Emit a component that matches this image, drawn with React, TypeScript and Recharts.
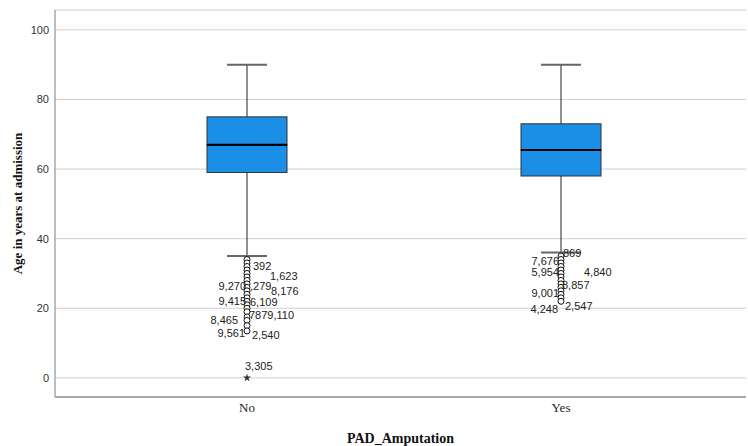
import { ComposedChart, Bar, Scatter, XAxis, YAxis, CartesianGrid, Symbols } from 'recharts';

// groups and five-number summaries (age in years)
const categories = ['No', 'Yes'];
const whiskerLow = [35, 36];
const q1 = [59, 58];
const median = [67, 65.5];
const q3 = [75, 73];
const whiskerHigh = [90, 90];

// outliers (circles) and extremes (stars)
const noOutliers = [34, 33, 32, 31, 30, 29, 28, 27, 26, 25, 24, 23, 22, 21, 20, 19, 17.5, 16.5, 15, 13.5];
const yesOutliers = [35, 34, 33, 32, 31, 30, 29, 28, 27, 26, 25, 24, 23, 22];
const noExtremes = [0];

// case labels next to the outliers
const labelGroups = ['No', 'No', 'No', 'No', 'No', 'No', 'No', 'No', 'No', 'No', 'No', 'No',
    'Yes', 'Yes', 'Yes', 'Yes', 'Yes', 'Yes', 'Yes', 'Yes'];
const labelTexts = ['392', '1,623', '9,270', ',279', '8,176', '9,415', '6,109', '7879,110', '8,465', '9,561', '2,540', '3,305',
    '869', '7,676', '5,954', '4,840', '8,857', '9,001', '4,248', '2,547'];
const labelValues = [32.2, 29.3, 26.4, 26.4, 25, 22.1, 21.8, 18.1, 16.7, 12.9, 12.4, 3.4,
    35.9, 33.6, 30.5, 30.5, 26.7, 24.4, 19.8, 20.7];

// where each label sits relative to its column: [dx, anchor]
const labelPlacement: [number, string][] = [
    [6, 'start'], [23, 'start'], [-1, 'end'], [3, 'start'], [24, 'start'], [-1, 'end'],
    [3, 'start'], [2, 'start'], [-9, 'end'], [-2, 'end'], [5, 'start'], [-2, 'start'],
    [2, 'start'], [-2, 'end'], [-2, 'end'], [23, 'start'], [1, 'start'], [-2, 'end'], [-3, 'end'], [4, 'start']
];

const yTicks = [0, 20, 40, 60, 80, 100];

const boxData = categories.map((name, i) => ({
    name,
    base: whiskerLow[i],
    lowWhisker: q1[i] - whiskerLow[i],
    lowerBox: median[i] - q1[i],
    upperBox: q3[i] - median[i],
    highWhisker: whiskerHigh[i] - q3[i]
}));

const outlierData = [
    ...noOutliers.map(v => ({ name: 'No', value: v })),
    ...yesOutliers.map(v => ({ name: 'Yes', value: v }))
];
const extremeData = noExtremes.map(v => ({ name: 'No', value: v }));
const labelData = labelTexts.map((text, i) => ({
    name: labelGroups[i],
    value: labelValues[i],
    text,
    dx: labelPlacement[i][0],
    anchor: labelPlacement[i][1]
}));

const BOX_FILL = '#1b8ee6';
const CAP_W = 40;

const LowWhisker = (props: any) => {
    const { x, y, width, height } = props;
    const cx = x + width / 2;
    return (
        <g>
            <line x1={cx} x2={cx} y1={y} y2={y + height} stroke="#222" strokeWidth={1} />
            <line x1={cx - CAP_W / 2} x2={cx + CAP_W / 2} y1={y + height} y2={y + height} stroke="#666" strokeWidth={2} />
        </g>
    );
};

const HighWhisker = (props: any) => {
    const { x, y, width, height } = props;
    const cx = x + width / 2;
    return (
        <g>
            <line x1={cx} x2={cx} y1={y} y2={y + height} stroke="#222" strokeWidth={1} />
            <line x1={cx - CAP_W / 2} x2={cx + CAP_W / 2} y1={y} y2={y} stroke="#666" strokeWidth={2} />
        </g>
    );
};

const LowerBox = (props: any) => {
    const { x, y, width, height } = props;
    return (
        <g>
            <rect x={x} y={y} width={width} height={height} fill={BOX_FILL} stroke="#333" strokeWidth={1} />
            <line x1={x} x2={x + width} y1={y} y2={y} stroke="#000" strokeWidth={2} />
        </g>
    );
};

const UpperBox = (props: any) => {
    const { x, y, width, height } = props;
    return (
        <g>
            <rect x={x} y={y} width={width} height={height} fill={BOX_FILL} stroke="#333" strokeWidth={1} />
            <line x1={x} x2={x + width} y1={y + height} y2={y + height} stroke="#000" strokeWidth={2} />
        </g>
    );
};

const Circle = (props: any) => (
    <circle cx={props.cx} cy={props.cy} r={3} fill="#fff" stroke="#111" strokeWidth={1} />
);

const Star = (props: any) => (
    <Symbols cx={props.cx} cy={props.cy} type="star" size={20} fill="#333" />
);

const CaseLabel = (props: any) => {
    const { cx, cy, payload } = props;
    return (
        <text x={cx + payload.dx} y={cy} dy="0.35em" textAnchor={payload.anchor}
            fontFamily="Liberation Sans, Arial, sans-serif" fontSize={11} fill="#222">
            {payload.text}
        </text>
    );
};

export default function App() {
    return (
        <div style={{ position: 'absolute', left: 0, top: 0, background: '#fff' }}>
            <ComposedChart width={748} height={446} data={boxData}
                margin={{ top: 10, right: 2, bottom: 0, left: 0 }}>
                <CartesianGrid vertical={false} stroke="#cfcfcf" strokeWidth={1} />
                <XAxis
                    dataKey="name"
                    type="category"
                    allowDuplicatedCategory={false}
                    padding={{ left: 35, right: 28 }}
                    height={49}
                    axisLine={{ stroke: '#a8a8a8', strokeWidth: 2 }}
                    tickLine={false}
                    tickSize={0}
                    tickMargin={6}
                    tick={{ fill: '#222', fontSize: 13, fontFamily: 'Liberation Serif, Times New Roman, serif' }}
                    label={{
                        value: 'PAD_Amputation', position: 'insideBottom', offset: 3,
                        style: { fill: '#111', fontSize: 14, fontWeight: 'bold', fontFamily: 'Liberation Serif, Times New Roman, serif' }
                    }}
                />
                <YAxis
                    type="number"
                    domain={[-5.5, 105.7]}
                    ticks={yTicks}
                    allowDataOverflow
                    width={55}
                    axisLine={{ stroke: '#a8a8a8', strokeWidth: 1.5 }}
                    tickLine={false}
                    tickSize={0}
                    tickMargin={6}
                    tick={{ fill: '#333', fontSize: 11, fontFamily: 'Liberation Sans, Arial, sans-serif' }}
                    label={{
                        value: 'Age in years at admission', angle: -90, position: 'insideLeft', dx: 12, dy: 0,
                        style: { textAnchor: 'middle', fill: '#111', fontSize: 13, fontWeight: 'bold', fontFamily: 'Liberation Serif, Times New Roman, serif' }
                    }}
                />
                <Bar dataKey="base" stackId="box" fill="none" barSize={80} isAnimationActive={false} />
                <Bar dataKey="lowWhisker" stackId="box" barSize={80} shape={LowWhisker} isAnimationActive={false} />
                <Bar dataKey="lowerBox" stackId="box" barSize={80} shape={LowerBox} isAnimationActive={false} />
                <Bar dataKey="upperBox" stackId="box" barSize={80} shape={UpperBox} isAnimationActive={false} />
                <Bar dataKey="highWhisker" stackId="box" barSize={80} shape={HighWhisker} isAnimationActive={false} />
                <Scatter data={outlierData} dataKey="value" shape={Circle} isAnimationActive={false} />
                <Scatter data={extremeData} dataKey="value" shape={Star} isAnimationActive={false} />
                <Scatter data={labelData} dataKey="value" shape={CaseLabel} isAnimationActive={false} />
            </ComposedChart>
        </div>
    );
}
